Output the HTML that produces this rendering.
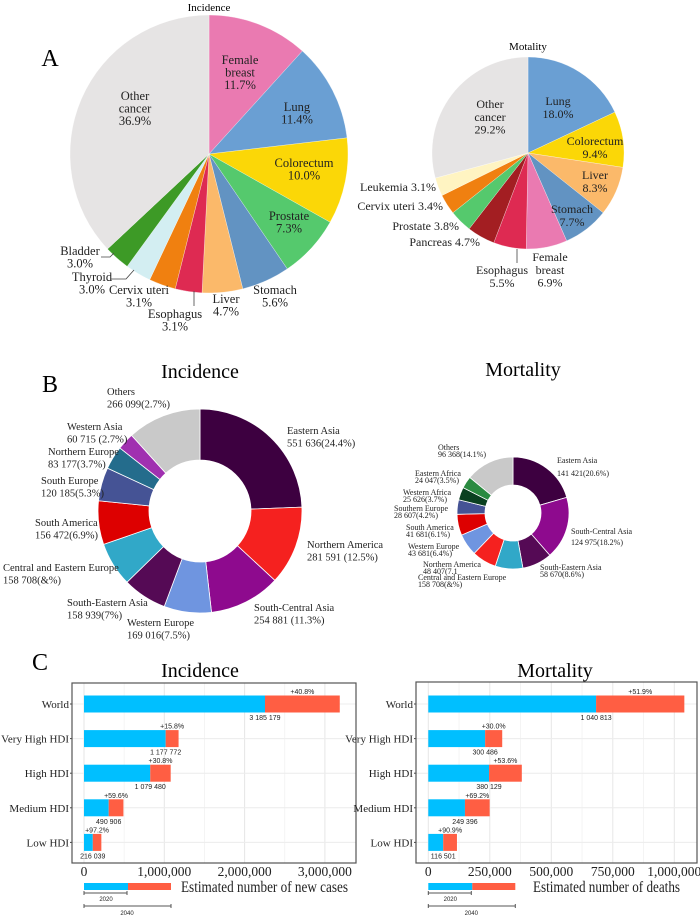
<!DOCTYPE html>
<html><head><meta charset="utf-8"><style>
body{margin:0;background:#fff}
svg{display:block;font-family:"Liberation Serif",serif}
</style></head><body>
<svg id="fig" width="700" height="917" viewBox="0 0 700 917">
<g id="pA">
<text x="50" y="66" font-size="24" text-anchor="middle">A</text>
<text x="209" y="11" font-size="11" text-anchor="middle">Incidence</text>
<text x="528" y="50" font-size="11" text-anchor="middle">Motality</text>
</g>
<g id="pB">
<text x="50" y="392" font-size="24" text-anchor="middle">B</text>
<text x="200" y="378" font-size="20" text-anchor="middle">Incidence</text>
<text x="523" y="376" font-size="20" text-anchor="middle">Mortality</text>
</g>
<g id="pC">
<text x="40" y="670" font-size="24" text-anchor="middle">C</text>
<text x="200" y="677" font-size="20" text-anchor="middle">Incidence</text>
<text x="555" y="677" font-size="20" text-anchor="middle">Mortality</text>
</g>
</svg>
<script>
const NS="http://www.w3.org/2000/svg";
// ---- Panel A data ----
const pieIncCats=["Female breast","Lung","Colorectum","Prostate","Stomach","Liver","Esophagus","Cervix uteri","Thyroid","Bladder","Other cancer"];
const pieIncVals=[11.7,11.4,10.0,7.3,5.6,4.7,3.1,3.1,3.0,3.0,36.9];
const pieIncColors=["#ea7ab1","#6a9fd3","#fbd707","#55c96d","#6293c2","#fbb96a","#de2a52","#f08010","#d3eef2","#3d9a26","#e6e4e4"];
const pieMortCats=["Lung","Colorectum","Liver","Stomach","Female breast","Esophagus","Pancreas","Prostate","Cervix uteri","Leukemia","Other cancer"];
const pieMortVals=[18.0,9.4,8.3,7.7,6.9,5.5,4.7,3.8,3.4,3.1,29.2];
const pieMortColors=["#6a9fd3","#fbd707","#fbb96a","#6293c2","#ea7ab1","#de2a52","#a31e22","#55c96d","#f08010","#fff4c2","#e6e4e4"];
// ---- Panel B data ----
const donIncCats=["Eastern Asia","Northern America","South-Central Asia","Western Europe","South-Eastern Asia","Central and Eastern Europe","South America","South Europe","Northern Europe","Western Asia","Others"];
const donIncVals=[24.4,12.5,11.3,7.5,7.0,7.0,6.9,5.3,3.7,2.7,11.7];
const donIncColors=["#3d0040","#f5211f","#8e0a8e","#6f95e0","#550a55","#31a8c8","#dd0000","#455395","#246c8c","#a030b0","#c9c9c9"];
const donMortCats=["Eastern Asia","South-Central Asia","South-Eastern Asia","Central and Eastern Europe","Northern America","Western Europe","South America","Southern Europe","Western Africa","Eastern Africa","Others"];
const donMortVals=[20.6,18.2,8.6,8.0,7.1,6.4,6.1,4.2,3.7,3.5,14.1];
const donMortColors=["#3d0040","#8e0a8e","#550a55","#31a8c8","#f5211f","#6f95e0","#dd0000","#455395","#0a4020","#2a8a40","#c9c9c9"];
// ---- Panel C data ----
const hdiCats=["World","Very High HDI","High HDI","Medium HDI","Low HDI"];
const inc2020=[2254000,1017000,825000,307600,109500];
const inc2040=[3185179,1177772,1079480,490906,216039];
const incPct=["+40.8%","+15.8%","+30.8%","+59.6%","+97.2%"];
const incTicks=[0,1000000,2000000,3000000];
const incTickLabels=["0","1,000,000","2,000,000","3,000,000"];
const mort2020=[682000,231000,247000,149000,60600];
const mort2040=[1040813,300486,380129,249396,116501];
const mortPct=["+51.9%","+30.0%","+53.6%","+69.2%","+90.9%"];
const mortTicks=[0,250000,500000,750000,1000000];
const mortTickLabels=["0","250,000","500,000","750,000","1,000,000"];

const svg=document.getElementById('fig');
function mk(tag,attrs,parent){const e=document.createElementNS(NS,tag);for(const k in attrs)e.setAttribute(k,attrs[k]);(parent||svg).appendChild(e);return e;}
function txt(x,y,s,size,parent,anchor,fill,fam){const t=mk('text',{x:x,y:y,'font-size':size,'text-anchor':anchor||'middle',fill:fill||'#222'},parent);if(fam)t.setAttribute('font-family',fam);t.textContent=s;return t;}
function arcPath(cx,cy,r,ri,a0,a1){
  const p=(a,rr)=>[cx+rr*Math.sin(a),cy-rr*Math.cos(a)];
  const lg=(a1-a0)>Math.PI?1:0;
  const [x0,y0]=p(a0,r),[x1,y1]=p(a1,r);
  if(ri>0){const [x2,y2]=p(a1,ri),[x3,y3]=p(a0,ri);
    return `M${x0},${y0}A${r},${r} 0 ${lg} 1 ${x1},${y1}L${x2},${y2}A${ri},${ri} 0 ${lg} 0 ${x3},${y3}Z`;}
  return `M${cx},${cy}L${x0},${y0}A${r},${r} 0 ${lg} 1 ${x1},${y1}Z`;
}
function drawPie(cats,vals,colors,cx,cy,r,ri,name){
  const g=mk('g',{});
  
  
  const tot=vals.reduce((a,b)=>a+b,0);let a=0;
  vals.forEach((v,i)=>{const a1=a+v/tot*2*Math.PI;
    const p=mk('path',{d:arcPath(cx,cy,r,ri,a,a1),fill:colors[i],stroke:'#fff','stroke-width':ri>0?0.8:0.3},g);
    
    
    a=a1;});
  return g;
}
function lines(g,x,y,arr,size,anchor,dy,fill){arr.forEach((s,i)=>txt(x,y+i*dy,s,size,g,anchor,fill));}

// Panel A
drawPie(pieIncCats,pieIncVals,pieIncColors,209,154,139,0,'incidence-pie');
const lA=mk('g',{});


lines(lA,240,64,["Female","breast","11.7%"],12.5,'middle',12.6);
lines(lA,297,111,["Lung","11.4%"],12.5,'middle',12.6);
lines(lA,135,100,["Other","cancer","36.9%"],12.5,'middle',12.6);
lines(lA,304,167,["Colorectum","10.0%"],12.5,'middle',12.6);
lines(lA,289,220,["Prostate","7.3%"],12.5,'middle',12.6);
lines(lA,275,294,["Stomach","5.6%"],12.5,'middle',12.6);
lines(lA,226,303,["Liver","4.7%"],12.5,'middle',12.6);
lines(lA,175,318,["Esophagus","3.1%"],12.5,'middle',12.6);
lines(lA,139,294,["Cervix uteri","3.1%"],12.5,'middle',12.6);
lines(lA,92,281,["Thyroid","3.0%"],12.5,'middle',12.6);
lines(lA,80,255,["Bladder","3.0%"],12.5,'middle',12.6);
mk('polyline',{points:"101,257 110,257 114,253",fill:'none',stroke:'#444','stroke-width':0.8},lA);
mk('polyline',{points:"111,279 126,279 134,270",fill:'none',stroke:'#444','stroke-width':0.8},lA);
mk('line',{x1:194,y1:291,x2:194,y2:306,stroke:'#444','stroke-width':0.8},lA);

drawPie(pieMortCats,pieMortVals,pieMortColors,528,153,96,0,'mortality-pie');
const lA2=mk('g',{});


lines(lA2,558,105,["Lung","18.0%"],12,'middle',12.8);
lines(lA2,595,145,["Colorectum","9.4%"],12,'middle',12.8);
lines(lA2,595,179,["Liver","8.3%"],12,'middle',12.8);
lines(lA2,572,213,["Stomach","7.7%"],12,'middle',12.8);
lines(lA2,490,108,["Other","cancer","29.2%"],12,'middle',12.8);
txt(436,191,"Leukemia 3.1%",12,lA2,'end');
txt(443,210,"Cervix uteri 3.4%",12,lA2,'end');
txt(459,230,"Prostate 3.8%",12,lA2,'end');
txt(480,246,"Pancreas 4.7%",12,lA2,'end');
lines(lA2,502,274,["Esophagus","5.5%"],12,'middle',12.8);
lines(lA2,550,261,["Female","breast","6.9%"],12,'middle',12.8);
mk('line',{x1:517,y1:249,x2:517,y2:263,stroke:'#444','stroke-width':0.8},lA2);

// Panel B
drawPie(donIncCats,donIncVals,donIncColors,200,511,102,51,'incidence-donut');
const lB=mk('g',{});


const bl=[[107,395,"Others","266 099(2.7%)"],[287,434,"Eastern Asia","551 636(24.4%)"],[67,430,"Western Asia","60 715 (2.7%)"],[48,455,"Northern Europe","83 177(3.7%)"],[41,484,"South Europe","120 185(5.3%)"],[35,526,"South America","156 472(6.9%)"],[3,571,"Central and Eastern Europe","158 708(&%)"],[67,606,"South-Eastern Asia","158 939(7%)"],[127,626,"Western Europe","169 016(7.5%)"],[254,611,"South-Central Asia","254 881 (11.3%)"],[307,548,"Northern America","281 591 (12.5%)"]];
bl.forEach(b=>lines(lB,b[0],b[1],[b[2],b[3]],10.5,'start',12.3));

drawPie(donMortCats,donMortVals,donMortColors,513,513,56,28,'mortality-donut');
const lB2=mk('g',{});


const ml=[[438,450,"Others","96 368(14.1%)"],[557,463,"Eastern Asia","141 421(20.6%)"],[415,476,"Eastern Africa","24 047(3.5%)"],[403,495,"Western Africa","25 626(3.7%)"],[394,511,"Southern Europe","28 607(4.2%)"],[406,530,"South America","41 681(6.1%)"],[408,549,"Western Europe","43 681(6.4%)"],[423,567,"Northern America","48 407(7.1"],[418,580,"Central and Eastern Europe","158 708(&%)"],[571,534,"South-Central Asia","124 975(18.2%)"],[540,570,"South-Eastern Asia","58 670(8.6%)"]];
ml.forEach((b,i)=>{const gap=(i===9)?11:(i===1?13:7);lines(lB2,b[0],b[1],[b[2],b[3]],8,'start',gap);});

// Panel C
function barChart(name,box,x0,scale,v20,v40,pct,ticks,tickLabels,xtitle,titleX,titleW){
  const g=mk('g',{});
  
  
  const X=v=>x0+v*scale;
  const rowY=i=>704+i*34.6;
  mk('rect',{x:box[0],y:box[1],width:box[2]-box[0],height:box[3]-box[1],fill:'#fff'},g);
  ticks.forEach((t,i)=>{
    mk('line',{x1:X(t),y1:box[1],x2:X(t),y2:box[3],stroke:'#e6e6e6','stroke-width':1},g);
    if(i<ticks.length-1){const m=(t+ticks[i+1])/2;mk('line',{x1:X(m),y1:box[1],x2:X(m),y2:box[3],stroke:'#f2f2f2','stroke-width':0.8},g);}
    const tl=txt(X(t),876,tickLabels[i],13.5,g,'middle','#222');
    
    
  });
  hdiCats.forEach((c,i)=>{
    const y=rowY(i);
    mk('line',{x1:box[0],y1:y,x2:box[2],y2:y,stroke:'#ececec','stroke-width':1},g);
    const yl=txt(box[0]-3,y+4,c,11,g,'end','#222');
    
    
    mk('line',{x1:box[0]-2,y1:y,x2:box[0],y2:y,stroke:'#444'},g);
    const b1=mk('rect',{x:X(0),y:y-8.5,width:X(v20[i])-X(0),height:17,fill:'#00bfff'},g);
    
    
    const b2=mk('rect',{x:X(v20[i]),y:y-8.5,width:X(v40[i])-X(v20[i]),height:17,fill:'#ff5e43'},g);
    
    
    txt((X(v20[i])+X(v40[i]))/2,y-10,pct[i],7,g,'middle','#222','Liberation Sans, sans-serif');
    txt(X(v20[i]),y+16,v40[i].toLocaleString('en-US').replace(/,/g,' '),7,g,'middle','#222','Liberation Sans, sans-serif');
  });
  mk('rect',{x:box[0],y:box[1],width:box[2]-box[0],height:box[3]-box[1],fill:'none',stroke:'#555','stroke-width':1.2},g);
  const t=txt(titleX,892,xtitle,16,g,'start','#222');
  t.setAttribute('textLength',titleW);
  t.setAttribute('lengthAdjust','spacingAndGlyphs');
  
  
  const lg=mk('g',{},g);
  
  
  const lx=X(0);
  mk('rect',{x:lx,y:883,width:44,height:7,fill:'#00bfff'},lg);
  mk('rect',{x:lx+44,y:883,width:43,height:7,fill:'#ff5e43'},lg);
  mk('line',{x1:lx,y1:893,x2:lx+43,y2:893,stroke:'#555'},lg);
  mk('line',{x1:lx,y1:891,x2:lx,y2:895,stroke:'#555'},lg);
  mk('line',{x1:lx+43,y1:891,x2:lx+43,y2:895,stroke:'#555'},lg);
  txt(lx+22,901,"2020",6,lg,'middle','#222','Liberation Sans, sans-serif');
  mk('line',{x1:lx,y1:906,x2:lx+87,y2:906,stroke:'#555'},lg);
  mk('line',{x1:lx,y1:904,x2:lx,y2:908,stroke:'#555'},lg);
  mk('line',{x1:lx+87,y1:904,x2:lx+87,y2:908,stroke:'#555'},lg);
  txt(lx+43,915,"2040",6,lg,'middle','#222','Liberation Sans, sans-serif');
}
barChart('incidence-bar-chart',[72,683,356,863],84,80.3/1e6,inc2020,inc2040,incPct,incTicks,incTickLabels,"Estimated number of new cases",181,167);
barChart('mortality-bar-chart',[416,682,697,863],428.3,246/1e6,mort2020,mort2040,mortPct,mortTicks,mortTickLabels,"Estimated number of deaths",533,147);
</script>
</body></html>
